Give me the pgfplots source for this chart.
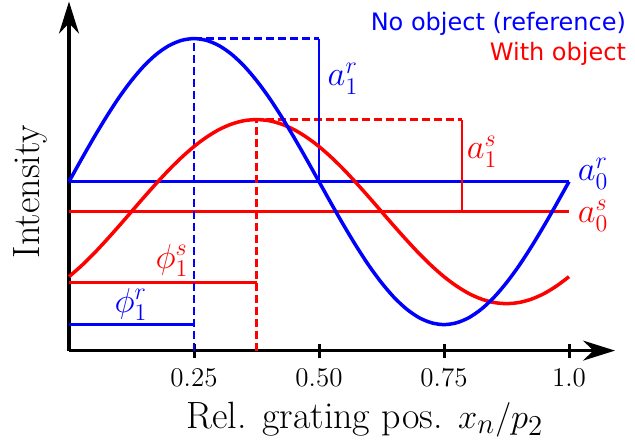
\documentclass[border=0pt]{standalone}
\usepackage{fontspec}
\usepackage{pgfplots}
\pgfplotsset{compat=1.18}
\usetikzlibrary{arrows.meta}
\newfontfamily\legendfont{DejaVu Sans}

\pgfplotstableread{
x ref obj
0.000 169.0 73.9
0.025 191.4 84.9
0.050 213.2 97.2
0.075 233.9 110.6
0.100 253.1 124.6
0.125 270.1 139.0
0.150 284.7 153.4
0.175 296.4 167.4
0.200 305.0 180.8
0.225 310.2 193.1
0.250 312.0 204.1
0.275 310.2 213.4
0.300 305.0 221.0
0.325 296.4 226.5
0.350 284.7 229.9
0.375 270.1 231.0
0.400 253.1 229.9
0.425 233.9 226.5
0.450 213.2 221.0
0.475 191.4 213.4
0.500 169.0 204.1
0.525 146.6 193.1
0.550 124.8 180.8
0.575 104.1 167.4
0.600 84.9 153.4
0.625 67.9 139.0
0.650 53.3 124.6
0.675 41.6 110.6
0.700 33.0 97.2
0.725 27.8 84.9
0.750 26.0 73.9
0.775 27.8 64.6
0.800 33.0 57.0
0.825 41.6 51.5
0.850 53.3 48.1
0.875 67.9 47.0
0.900 84.9 48.1
0.925 104.1 51.5
0.950 124.8 57.0
0.975 146.6 64.6
1.000 169.0 73.9
}\curves

\begin{document}
\begin{tikzpicture}
\begin{axis}[
  x=250pt, y=0.5pt,
  xmin=0, xmax=1.092, ymin=0, ymax=349,
  axis lines=left,
  axis line style={line width=1.6pt, -{Stealth[length=16pt,width=10pt]}},
  xtick={0.25,0.5,0.75,1.0},
  xticklabels={0.25,0.50,0.75,1.0},
  ytick=\empty,
  tick align=center,
  major tick length=7pt,
  tick style={line width=1.5pt, black},
  xticklabel style={font=\fontsize{13.5}{15}\selectfont, yshift=-2pt},
  xlabel={Rel. grating pos. $x_n/p_2$},
  ylabel={Intensity},
  label style={font=\fontsize{19}{22}\selectfont},
  xlabel style={at={(axis description cs:0.542,-0.198)}, anchor=center},
  ylabel style={at={(axis description cs:-0.0714,0.456)}, anchor=center, rotate=0},
  clip=false,
  dashed line/.style={line width=1.3pt, dash pattern=on 4pt off 2pt},
]
% offset lines
\addplot[blue, line width=1.2pt] coordinates {(0,169) (1.0,169)};
\addplot[red, line width=1.2pt] coordinates {(0,139) (1.0,139)};
% phase markers
\addplot[blue, line width=1.2pt] coordinates {(0,26) (0.25,26)};
\addplot[red, line width=1.2pt] coordinates {(0,68) (0.375,68)};
\addplot[blue, dashed line] coordinates {(0.25,0) (0.25,312) (0.5,312)};
\addplot[red, dashed line] coordinates {(0.375,0) (0.375,231) (0.786,231)};
% amplitude markers
\addplot[blue, line width=1.2pt] coordinates {(0.5,312) (0.5,169)};
\addplot[red, line width=1.2pt] coordinates {(0.786,231) (0.786,139)};
% curves
\addplot[red, line width=1.75pt, smooth] table[x=x, y=obj] {\curves};
\addplot[blue, line width=1.75pt, smooth] table[x=x, y=ref] {\curves};

\def\lbl{\fontsize{18}{20}\selectfont}
\node[blue, font=\lbl, inner sep=0pt] at (axis cs:0.548,272) {$a_1^r$};
\node[red, font=\lbl, inner sep=0pt] at (axis cs:0.826,199) {$a_1^s$};
\node[blue, font=\lbl, inner sep=0pt] at (axis cs:1.048,177) {$a_0^r$};
\node[red, font=\lbl, inner sep=0pt] at (axis cs:1.048,135) {$a_0^s$};
\node[red, font=\lbl, inner sep=0pt] at (axis cs:0.206,90) {$\phi_1^s$};
\node[blue, font=\lbl, inner sep=0pt] at (axis cs:0.124,46) {$\phi_1^r$};
\node[blue, anchor=east, font=\legendfont\fontsize{12}{14}\selectfont] at (axis cs:1.128,327) {No object (reference)};
\node[red, anchor=east, font=\legendfont\fontsize{12}{14}\selectfont] at (axis cs:1.128,297) {With object};

\coordinate (bl) at (axis cs:-0.138,-93);
\coordinate (tr) at (axis cs:1.132,349);
\end{axis}
\path (bl) rectangle (tr);
\end{tikzpicture}
\end{document}
